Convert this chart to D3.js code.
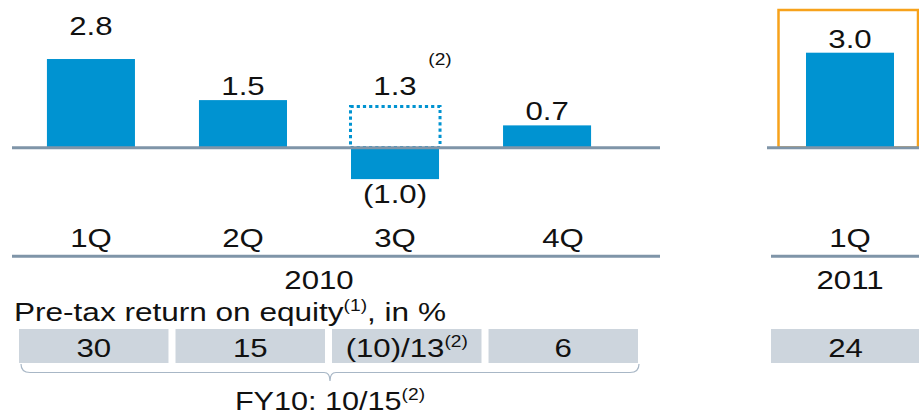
<!DOCTYPE html>
<html>
<head>
<meta charset="utf-8">
<script src="https://cdn.jsdelivr.net/npm/d3@7"></script>
<style>
  body { margin: 0; background: #fff; }
  svg text { font-family: "Liberation Sans", Arial, sans-serif; fill: #111; }
</style>
</head>
<body>
<div id="chart"></div>
<script>
// chart data
const quarters2010 = ["1Q", "2Q", "3Q", "4Q"];
const result2010 = [2.8, 1.5, -1.0, 0.7];
const adjusted3Q = 1.3;            // dotted bar, footnote (2)
const quarters2011 = ["1Q"];
const result2011 = [3.0];
const roe2010 = ["30", "15", "(10)/13", "6"];
const roeNotes2010 = ["", "", "(2)", ""];
const roe2011 = ["24"];
const years = ["2010", "2011"];
const fyLabel = "FY10: 10/15";

const W = 919, H = 416;
const blue = "#0093d1", slate = "#7f95a8", boxGrey = "#cdd5dd", orange = "#f7a21b";
const SX = 1.2; // slide text is stretched horizontally
const tr = (x, y) => `translate(${x},${y}) scale(${SX},1)`;

const svg = d3.select("#chart").append("svg")
    .attr("width", W)
    .attr("height", H);

// scales
const y = d3.scaleLinear().domain([-1, 3]).range([179.1, 52.7]);
const x10 = d3.scaleBand().domain(quarters2010).range([15, 623]).paddingInner(0.421).paddingOuter(0.21);
const x11 = d3.scaleBand().domain(quarters2011).range([774, 926]).paddingInner(0.421).paddingOuter(0.21);
const t10 = d3.scaleBand().domain(quarters2010).range([19, 638]).paddingInner(0.045);
const t11 = d3.scaleBand().domain(quarters2011).range([771, 920]);

const fmt = v => v < 0 ? "(" + d3.format(".1f")(-v) + ")" : d3.format(".1f")(v);
const labelLift = { "1Q": 19 }; // first label sits higher in the original slide
const qLabelDx = { "4Q": 16 };

const data10 = quarters2010.map((q, i) => ({ q, v: result2010[i] }));
const data11 = quarters2011.map((q, i) => ({ q, v: result2011[i] }));

// orange highlight frame around 2011
svg.append("rect")
    .attr("x", x11.range()[0] + 4.5)
    .attr("y", 10)
    .attr("width", 918 - (x11.range()[0] + 4.5))
    .attr("height", y(0) - 10)
    .attr("fill", "none")
    .attr("stroke", orange)
    .attr("stroke-width", 2.5);

// bars
function drawBars(data, x, lift) {
    const g = svg.append("g");
    g.selectAll("rect")
        .data(data)
        .join("rect")
        .attr("x", d => x(d.q))
        .attr("width", x.bandwidth())
        .attr("y", d => d.v >= 0 ? y(d.v) : y(0) + 1.5)
        .attr("height", d => d.v >= 0 ? y(0) - y(d.v) : y(d.v) - y(0) - 1.5)
        .attr("fill", blue);
    g.selectAll("text")
        .data(data)
        .join("text")
        .attr("transform", d => tr(x(d.q) + x.bandwidth() / 2,
            d.v >= 0 ? y(d.v) - 5 - (lift[d.q] || 0) : y(d.v) + 24))
        .attr("text-anchor", "middle")
        .attr("font-size", 26)
        .text(d => fmt(d.v));
}
drawBars(data10, x10, labelLift);
drawBars(data11, x11, {});

// dotted 3Q adjusted bar
svg.append("rect")
    .attr("x", x10("3Q") - 0.5)
    .attr("y", y(adjusted3Q))
    .attr("width", x10.bandwidth() + 1.5)
    .attr("height", y(0) - y(adjusted3Q))
    .attr("fill", "none")
    .attr("stroke", blue)
    .attr("stroke-width", 3)
    .attr("stroke-dasharray", "3.2,3");
svg.append("text")
    .attr("transform", tr(x10("3Q") + x10.bandwidth() / 2, y(adjusted3Q) - 11))
    .attr("text-anchor", "middle")
    .attr("font-size", 26)
    .text(fmt(adjusted3Q));
svg.append("text")
    .attr("transform", tr(x10("3Q") + x10.bandwidth() / 2 + 45, 65))
    .attr("text-anchor", "middle")
    .attr("font-size", 16)
    .text("(2)");

// baselines
const baseY = y(0) + 0.2;
[[12, 660], [767, 919]].forEach(([a, b]) => {
    svg.append("line").attr("x1", a).attr("x2", b).attr("y1", baseY).attr("y2", baseY)
        .attr("stroke", slate).attr("stroke-width", 3);
});

// quarter labels + axis line
function drawQuarters(qs, x, dx) {
    svg.append("g").selectAll("text")
        .data(qs)
        .join("text")
        .attr("transform", q => tr(x(q) + x.bandwidth() / 2 + (dx[q] || 0), 247))
        .attr("text-anchor", "middle")
        .attr("font-size", 26)
        .text(q => q);
}
drawQuarters(quarters2010, x10, qLabelDx);
drawQuarters(quarters2011, x11, {});
[[12, 660], [771, 919]].forEach(([a, b]) => {
    svg.append("line").attr("x1", a).attr("x2", b).attr("y1", 256.3).attr("y2", 256.3)
        .attr("stroke", slate).attr("stroke-width", 3);
});

// year labels
svg.append("text").attr("transform", tr(319, 289)).attr("text-anchor", "middle")
    .attr("font-size", 26).text(years[0]);
svg.append("text").attr("transform", tr(x11("1Q") + x11.bandwidth() / 2, 289)).attr("text-anchor", "middle")
    .attr("font-size", 26).text(years[1]);

// ROE title
const title = svg.append("text").attr("transform", tr(14, 321)).attr("font-size", 26.3);
title.append("tspan").text("Pre-tax return on equity");
title.append("tspan").attr("font-size", 16).attr("dy", -10).text("(1)");
title.append("tspan").attr("dy", 10).text(", in %");

// ROE table
function drawTable(vals, notes, t) {
    const g = svg.append("g");
    g.selectAll("rect")
        .data(vals)
        .join("rect")
        .attr("x", (d, i) => t(t.domain()[i]))
        .attr("y", 329)
        .attr("width", t.bandwidth())
        .attr("height", 34)
        .attr("fill", boxGrey);
    const tx = g.selectAll("text")
        .data(vals)
        .join("text")
        .attr("transform", (d, i) => tr(t(t.domain()[i]) + t.bandwidth() / 2, 356.5))
        .attr("text-anchor", "middle")
        .attr("font-size", 26);
    tx.append("tspan").text(d => d);
    tx.append("tspan").attr("font-size", 16).attr("dy", -10).text((d, i) => notes[i] || "");
}
drawTable(roe2010, roeNotes2010, t10);
drawTable(roe2011, roe2011.map(() => ""), t11);

// brace under 2010 table
const bx0 = 21, bx1 = 639, bxm = 330, byTop = 364, byLine = 372.5, byTip = 381;
svg.append("path")
    .attr("d", `M${bx0},${byTop} Q${bx0},${byLine} ${bx0 + 9},${byLine} L${bxm - 6},${byLine} Q${bxm},${byLine} ${bxm},${byTip}`
        + ` Q${bxm},${byLine} ${bxm + 6},${byLine} L${bx1 - 9},${byLine} Q${bx1},${byLine} ${bx1},${byTop}`)
    .attr("fill", "none")
    .attr("stroke", "#a8b7c6")
    .attr("stroke-width", 1.2);

const fy = svg.append("text").attr("transform", tr(bxm, 410)).attr("text-anchor", "middle").attr("font-size", 25.5);
fy.append("tspan").text(fyLabel);
fy.append("tspan").attr("font-size", 16).attr("dy", -10).text("(2)");
</script>
</body>
</html>
